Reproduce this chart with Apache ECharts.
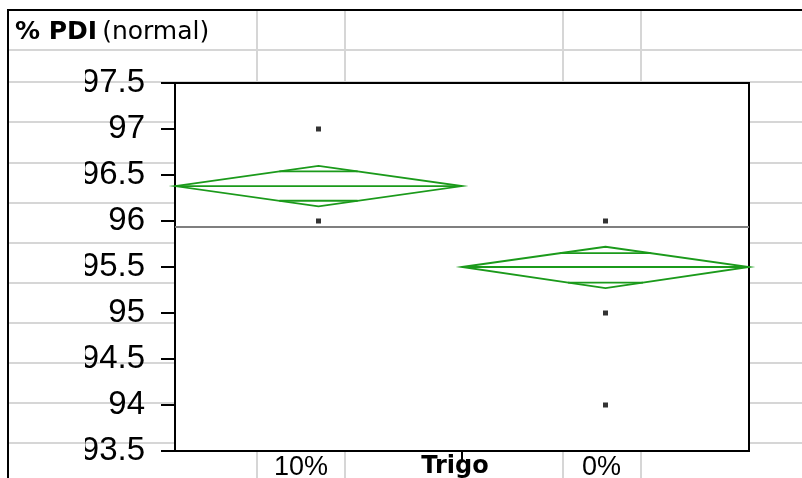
<!DOCTYPE html>
<html>
<head>
<meta charset="utf-8">
<script src="https://cdn.jsdelivr.net/npm/echarts@6/dist/echarts.min.js"></script>
<style>
html,body{margin:0;padding:0;background:#fff;}
#chart{width:802px;height:478px;}
</style>
</head>
<body>
<div id="chart"></div>
<script>
// ---- data ----
const categories = ['10%', '0%'];
const groupMeans = [96.38, 95.5];
const ciLower = [96.16, 95.27];
const ciUpper = [96.6, 95.72];
const overlapLower = [96.22, 95.33];
const overlapUpper = [96.54, 95.65];
const grandMean = 95.94;
const points10 = [97, 96];
const points0 = [96, 95, 94];
const yMin = 93.5, yMax = 97.5, yStep = 0.5;

// ---- styles ----
const GREEN = '#1b9a1b';
const GRID_GRAY = '#d6d6d6';

const pointData = [];
points10.forEach(v => pointData.push([0, v]));
points0.forEach(v => pointData.push([1, v]));

const diamondData = categories.map((c, i) =>
  [i, groupMeans[i], ciLower[i], ciUpper[i], overlapLower[i], overlapUpper[i]]);

function renderDiamond(params, api) {
  const i = api.value(0);
  const c = api.coord([i, api.value(1)]);
  const lo = api.coord([i, api.value(2)]);
  const hi = api.coord([i, api.value(3)]);
  const ovLo = api.coord([i, api.value(4)]);
  const ovHi = api.coord([i, api.value(5)]);
  const half = api.size([1, 0])[0] / 2;
  const cx = c[0], cy = c[1];
  const style = { stroke: GREEN, lineWidth: 1.8, fill: null };
  const children = [
    { type: 'polygon', shape: { points: [[cx - half, cy], [cx, hi[1]], [cx + half, cy], [cx, lo[1]]] }, style: style },
    { type: 'line', shape: { x1: cx - half, y1: cy, x2: cx + half, y2: cy }, style: style }
  ];
  [ovLo[1], ovHi[1]].forEach((oy, k) => {
    const tip = k === 0 ? lo[1] : hi[1];
    const w = half * (1 - Math.abs(oy - cy) / Math.abs(tip - cy));
    children.push({ type: 'line', shape: { x1: cx - w, y1: oy, x2: cx + w, y2: oy }, style: style });
  });
  if (i < categories.length - 1) {
    const bottom = api.coord([i, yMin])[1];
    children.push({ type: 'line', z2: 100, shape: { x1: cx + half, y1: bottom, x2: cx + half, y2: bottom + 11 },
      style: { stroke: '#000', lineWidth: 2 } });
  }
  return { type: 'group', children: children };
}

// spreadsheet background decoration
const rowsY = [50, 82, 122, 163, 203, 243, 283, 323, 363, 403, 443];
const colsX = [257, 345, 563, 641];
const graphics = [];
rowsY.forEach(y => graphics.push({ type: 'line', z: -10, shape: { x1: 9, y1: y, x2: 802, y2: y }, style: { stroke: GRID_GRAY, lineWidth: 2 } }));
colsX.forEach(x => graphics.push({ type: 'line', z: -10, shape: { x1: x, y1: 10, x2: x, y2: 478 }, style: { stroke: GRID_GRAY, lineWidth: 2 } }));
// mask clipping the left part of the tick labels (cell edge)
graphics.push({ type: 'rect', z: 50, shape: { x: 9, y: 58, width: 76, height: 420 }, style: { fill: '#fff' } });
rowsY.filter(y => y > 58).forEach(y => graphics.push({ type: 'line', z: 51, shape: { x1: 9, y1: y, x2: 85, y2: y }, style: { stroke: GRID_GRAY, lineWidth: 2 } }));
graphics.push({ type: 'line', z: 52, shape: { x1: 8, y1: 10, x2: 802, y2: 10 }, style: { stroke: '#000', lineWidth: 2 } });
graphics.push({ type: 'line', z: 52, shape: { x1: 8, y1: 9, x2: 8, y2: 478 }, style: { stroke: '#000', lineWidth: 2 } });

const chart = echarts.init(document.getElementById('chart'), null, { renderer: 'canvas' });
chart.setOption({
  animation: false,
  backgroundColor: '#fff',
  title: {
    text: '{b|% PDI} {n|(normal)}',
    left: 15, top: 20, padding: 0,
    textStyle: {
      rich: {
        b: { fontFamily: 'DejaVu Sans', fontSize: 25, fontWeight: 'bold', color: '#000', lineHeight: 25 },
        n: { fontFamily: 'DejaVu Sans', fontSize: 25, fontWeight: 'normal', color: '#000', lineHeight: 25 }
      }
    }
  },
  graphic: { elements: graphics },
  grid: {
    left: 175, right: 53, top: 83, bottom: 27, containLabel: false,
    outerBoundsMode: 'none',
    show: true, backgroundColor: '#fff', borderColor: '#000', borderWidth: 2
  },
  xAxis: {
    type: 'category',
    data: categories,
    boundaryGap: true,
    name: 'Trigo',
    nameLocation: 'middle',
    nameGap: 4,
    nameMoveOverlap: false,
    nameTextStyle: { fontFamily: 'DejaVu Sans', fontSize: 24, fontWeight: 'bold', color: '#000', verticalAlign: 'top', padding: [0, 14, 0, 0] },
    axisLine: { show: false },
    axisTick: { show: false },
    splitLine: { show: false },
    axisLabel: {
      margin: 3,
      verticalAlign: 'top',
      formatter: (v, i) => '{c' + i + '|' + v + '}',
      rich: {
        c0: { fontFamily: 'Liberation Sans', fontSize: 27, color: '#000', padding: [0, 35, 0, 0] },
        c1: { fontFamily: 'Liberation Sans', fontSize: 27, color: '#000', padding: [0, 8, 0, 0] }
      }
    }
  },
  yAxis: {
    type: 'value',
    min: yMin, max: yMax, interval: yStep,
    axisLine: { show: true, lineStyle: { color: '#000', width: 2 } },
    axisTick: { show: true, length: 14, lineStyle: { color: '#000', width: 2 } },
    splitLine: { show: false },
    axisLabel: { margin: 30, fontFamily: 'Liberation Sans', fontSize: 33, color: '#000', formatter: v => String(v) }
  },
  series: [
    {
      type: 'custom',
      clip: false,
      renderItem: renderDiamond,
      data: diamondData,
      z: 3
    },
    {
      type: 'scatter',
      data: pointData,
      symbol: 'rect',
      symbolSize: [5, 5],
      itemStyle: { color: '#000' },
      z: 4,
      markLine: {
        silent: true,
        symbol: 'none',
        label: { show: false },
        lineStyle: { color: '#7f7f7f', width: 2, type: 'solid' },
        data: [{ yAxis: grandMean }]
      }
    }
  ]
});
</script>
</body>
</html>
